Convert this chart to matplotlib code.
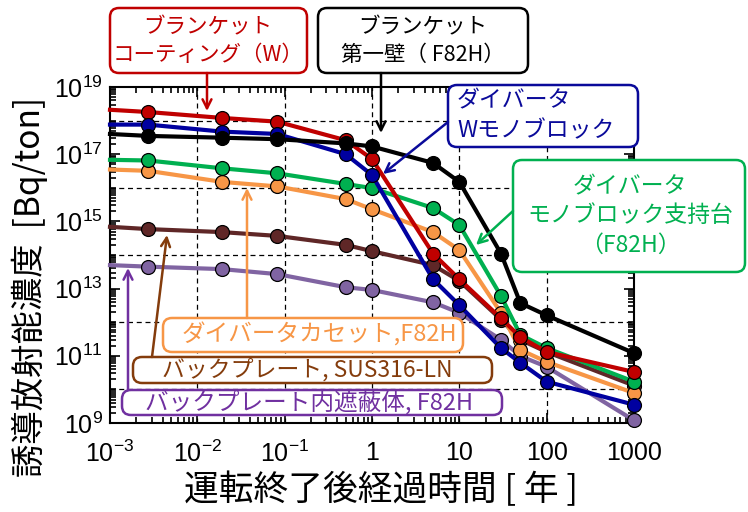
import numpy as np
import matplotlib
matplotlib.use('Agg')
import matplotlib.pyplot as plt
from matplotlib.patches import FancyBboxPatch
from matplotlib.ticker import LogLocator, FixedLocator, FixedFormatter, NullFormatter

plt.rcParams['font.family'] = ['Liberation Sans', 'Noto Sans CJK JP', 'DejaVu Sans']
plt.rcParams['mathtext.fontset'] = 'custom'
plt.rcParams['mathtext.rm'] = 'Liberation Sans'

# time after shutdown [year]; first entry is the shutdown value drawn at the left edge
t_years = [0.001, 0.00274, 0.0192, 0.0822, 0.5, 1, 5, 10, 30, 50, 100, 1000]

blanket_coating_w = [2.1e18, 1.8e18, 1.2e18, 9.3e17, 2.6e17, 7.2e16, 1.1e14, 1.9e13, 1.3e12, 3.6e11, 1.3e11, 3.3e10]
divertor_w_mono = [7.6e17, 7.6e17, 4.7e17, 4.0e17, 1.0e17, 2.4e16, 1.9e13, 3.2e12, 1.7e11, 6.2e10, 1.7e10, 3.5e9]
blanket_first_wall = [4.0e17, 3.5e17, 3.1e17, 2.8e17, 2.1e17, 1.7e17, 5.5e16, 1.5e16, 1.1e14, 3.7e12, 1.6e12, 1.2e11]
divertor_support = [6.8e16, 6.5e16, 3.8e16, 2.7e16, 1.3e16, 9.8e15, 2.5e15, 7.8e14, 6.0e12, 4.2e11, 1.7e11, 1.7e10]
divertor_cassette = [3.5e16, 3.2e16, 1.5e16, 1.1e16, 4.6e15, 2.3e15, 4.8e14, 1.4e14, 1.9e12, 1.5e11, 6.6e10, 7.8e9]
back_plate = [6.9e14, 5.9e14, 4.8e14, 3.7e14, 2.0e14, 1.3e14, 5.0e13, 1.7e13, 1.2e12, 3.0e11, 1.3e11, 1.3e10]
back_plate_shield = [5.0e13, 4.5e13, 3.8e13, 2.7e13, 1.1e13, 9.1e12, 3.9e12, 1.9e12, 3.0e11, 9.8e10, 4.7e10, 1.2e9]

x_ticks = [1e-3, 1e-2, 1e-1, 1, 10, 100, 1000]
x_tick_labels = [r'$\mathregular{10^{-3}}$', r'$\mathregular{10^{-2}}$', r'$\mathregular{10^{-1}}$',
                 '1', '10', '100', '1000']
y_ticks = [1e9, 1e11, 1e13, 1e15, 1e17, 1e19]
y_tick_labels = [r'$\mathregular{10^{%d}}$' % e for e in (9, 11, 13, 15, 17, 19)]
y_grid = [1e10, 1e12, 1e14, 1e16, 1e18]

series = [
    (back_plate_shield, '#8064A2'),
    (back_plate, '#5F2727'),
    (divertor_cassette, '#F79646'),
    (divertor_support, '#00B050'),
    (blanket_coating_w, '#C00000'),
    (divertor_w_mono, '#0000A0'),
    (blanket_first_wall, '#000000'),
]

W, H = 748, 512
fig = plt.figure(figsize=(W / 100, H / 100), dpi=100)
ax = fig.add_axes([110 / W, 1 - 423 / H, 524 / W, 336 / H])

for vals, col in series:
    ax.plot(t_years, vals, color=col, lw=3, marker='o', ms=10, mfc=col, mec='black',
            mew=0.9, markevery=slice(1, None), clip_on=False, zorder=3)

ax.set_xscale('log')
ax.set_yscale('log')
ax.set_xlim(1e-3, 1e3)
ax.set_ylim(1e9, 1e19)

ax.xaxis.set_major_locator(FixedLocator(x_ticks))
ax.xaxis.set_major_formatter(FixedFormatter(x_tick_labels))
ax.xaxis.set_minor_locator(LogLocator(base=10, subs=np.arange(2, 10), numticks=50))
ax.xaxis.set_minor_formatter(NullFormatter())
ax.yaxis.set_major_locator(FixedLocator(y_ticks))
ax.yaxis.set_major_formatter(FixedFormatter(y_tick_labels))
ax.yaxis.set_minor_locator(LogLocator(base=10, subs=np.arange(1, 10), numticks=50))
ax.yaxis.set_minor_formatter(NullFormatter())

ax.tick_params(which='both', direction='in', top=True, right=True, width=1.2, labelsize=18)
ax.tick_params(which='major', length=7)
ax.tick_params(which='minor', length=4)
ax.tick_params(axis='x', pad=13)
ax.tick_params(axis='y', pad=5)
for s in ax.spines.values():
    s.set_linewidth(1.5)

for xv in x_ticks[1:-1]:
    ax.axvline(xv, color='black', lw=0.9, ls=(0, (4, 3)), zorder=1)
for yv in y_grid:
    ax.axhline(yv, color='black', lw=0.9, ls=(0, (4, 3)), zorder=1)

# overlay in pixel coordinates for the callout boxes and axis titles
ov = fig.add_axes([0, 0, 1, 1], zorder=5)
ov.set_xlim(0, W)
ov.set_ylim(H, 0)
ov.axis('off')
ov.patch.set_visible(False)


def callout(x0, y0, w, h, color, text, tx, ty, size, ha='center', tcolor=None):
    box = FancyBboxPatch((x0, y0), w, h, boxstyle='round,pad=0,rounding_size=9',
                         fc='white', ec=color, lw=1.8, clip_on=False)
    ov.add_patch(box)
    ov.text(tx, ty, text, color=tcolor or color, fontsize=size, ha=ha, va='center',
            linespacing=1.35, family=['Noto Sans CJK JP', 'DejaVu Sans'])


def arrow(tail, tip, color):
    ov.annotate('', xy=tip, xytext=tail,
                arrowprops=dict(arrowstyle='->', color=color, lw=1.8, shrinkA=0, shrinkB=0,
                                mutation_scale=16))


callout(110, 8, 197, 65, '#C00000', 'ブランケット\nコーティング（W）', 208, 41, 15.5)
arrow((207, 73), (207, 111), '#C00000')

callout(318, 8, 210, 65, '#000000', 'ブランケット\n第一壁（ F82H）', 423, 41, 15.5)
arrow((381, 73), (381, 133), '#000000')

callout(448, 85, 190, 62, '#0A0A9A', 'ダイバータ\nWモノブロック', 457, 116, 16.5, ha='left')
arrow((448, 122), (383, 174), '#0A0A9A')

callout(513, 160, 232, 112, '#00B050', 'ダイバータ\nモノブロック支持台\n（F82H）', 630, 216, 16.5)
arrow((513, 211), (476, 245), '#00B050')

callout(163, 318, 300, 34, '#F79646', 'ダイバータカセット,F82H', 182, 335, 17, ha='left')
arrow((247, 318), (247, 188), '#F79646')

callout(133, 357, 359, 26, '#843C0C', 'バックプレート, SUS316-LN', 162, 370, 16.5, ha='left')
arrow((152, 357), (167, 235), '#843C0C')

callout(122, 390, 380, 25, '#7030A0', 'バックプレート内遮蔽体, F82H', 145, 402, 17, ha='left')
arrow((128, 390), (128, 268), '#7030A0')

ov.text(30, 287, '誘導放射能濃度  [Bq/ton]', rotation=90, ha='center', va='center', fontsize=24,
        family=['Noto Sans CJK JP', 'DejaVu Sans'])
ov.text(381, 490, '運転終了後経過時間 [ 年 ]', ha='center', va='center', fontsize=25,
        family=['Noto Sans CJK JP', 'DejaVu Sans'])

fig.savefig('out.png', dpi=100)
